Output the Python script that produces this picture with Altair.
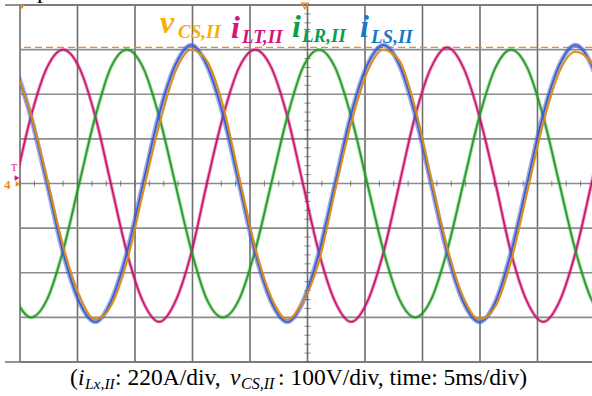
import altair as alt
import pandas as pd

# ---------------- data (in divisions) ----------------
t_div = [-0.08, 0.19, 0.47, 0.75, 1.03, 1.31, 1.58, 1.86, 2.14, 2.42, 2.70, 2.98,
         3.25, 3.53, 3.81, 4.09, 4.37, 4.65, 4.92, 5.20, 5.48, 5.76, 6.04, 6.32,
         6.60, 6.87, 7.15, 7.43, 7.71, 7.99, 8.27, 8.54, 8.82, 9.10, 9.38, 9.66,
         9.94, 10.21]

i_LT = [0.0, 1.5, 2.6, 3.0, 2.6, 1.5, 0.0, -1.55, -2.65, -3.1, -2.65, -1.55,
        0.0, 1.5, 2.6, 3.0, 2.6, 1.5, 0.0, -1.55, -2.65, -3.1, -2.65, -1.55,
        0.0, 1.5, 2.6, 3.05, 2.6, 1.5, 0.0, -1.55, -2.65, -3.1, -2.65, -1.55,
        0.0, 1.5]

i_LR = [-2.6, -3.0, -2.6, -1.5, 0.0, 1.5, 2.6, 3.0, 2.6, 1.5, 0.0, -1.5,
        -2.6, -3.0, -2.6, -1.5, 0.0, 1.5, 2.6, 3.0, 2.6, 1.5, 0.0, -1.5,
        -2.6, -3.0, -2.6, -1.5, 0.0, 1.5, 2.6, 3.0, 2.6, 1.5, 0.0, -1.5,
        -2.6, -3.0]

i_LS = [2.6, 1.5, 0.0, -1.55, -2.65, -3.1, -2.65, -1.55, 0.0, 1.55, 2.65, 3.1,
        2.65, 1.55, 0.0, -1.55, -2.65, -3.1, -2.65, -1.55, 0.0, 1.55, 2.65, 3.1,
        2.65, 1.55, 0.0, -1.55, -2.65, -3.1, -2.65, -1.55, 0.0, 1.55, 2.65, 3.1,
        2.65, 1.55]

v_CS = [2.55, 1.55, 0.1, -1.4, -2.5, -3.05, -2.75, -1.75, -0.2, 1.3, 2.5, 3.0,
        2.75, 1.75, 0.15, -1.45, -2.55, -3.05, -2.65, -1.75, -0.15, 1.35, 2.5, 3.0,
        2.75, 1.7, 0.1, -1.45, -2.55, -3.05, -2.75, -1.75, -0.2, 1.35, 2.5, 2.95,
        2.7, 1.7]

x_grid = [0, 1, 2, 3, 4, 5, 6, 7, 8, 9]
y_grid = [-4, -3, -2, -1, 0, 1, 2, 3, 4]
border_rows = [-4, 4]
dash_level = [3.05]
x_minor = [i * 0.25 for i in range(0, 40)]
y_minor = [i * 0.2 - 4 for i in range(0, 41)]

W, H = 572, 357
xs = alt.Scale(domain=[0, 9.948], nice=False, zero=False)
ys = alt.Scale(domain=[-4, 4], nice=False, zero=False)

SERIF = "Liberation Serif"

# ---------------- grid ----------------
vgrid = alt.Chart(pd.DataFrame({"x": x_grid})).mark_rule(
    color="#6e6e6e", strokeWidth=1.6
).encode(x=alt.X("x:Q", scale=xs, axis=None))

hgrid = alt.Chart(pd.DataFrame({"y": y_grid})).mark_rule(
    color="#8c8c8c", strokeWidth=1.6
).encode(y=alt.Y("y:Q", scale=ys, axis=None))

borders = alt.Chart(pd.DataFrame({"y": border_rows})).mark_rule(
    color="#6e6e6e", strokeWidth=1.6
).encode(y=alt.Y("y:Q", scale=ys, axis=None), x=alt.value(-15), x2=alt.value(W))

xticks = alt.Chart(pd.DataFrame({"x": x_minor, "y": [0] * len(x_minor)})).mark_tick(
    orient="vertical", size=6, thickness=1, color="#555555"
).encode(x=alt.X("x:Q", scale=xs, axis=None), y=alt.Y("y:Q", scale=ys, axis=None))

yticks = alt.Chart(pd.DataFrame({"y": y_minor, "x": [5] * len(y_minor)})).mark_tick(
    orient="horizontal", size=6, thickness=1, color="#555555"
).encode(x=alt.X("x:Q", scale=xs, axis=None), y=alt.Y("y:Q", scale=ys, axis=None))

dash = alt.Chart(pd.DataFrame({"y": dash_level})).mark_rule(
    color="#f08a24", strokeWidth=1.2, strokeDash=[7, 4]
).encode(y=alt.Y("y:Q", scale=ys, axis=None))


# ---------------- traces ----------------
def trace(vals, color, fuzz_w, core_w, fuzz_op):
    df = pd.DataFrame({"t": t_div, "v": vals})
    enc = dict(x=alt.X("t:Q", scale=xs, axis=None), y=alt.Y("v:Q", scale=ys, axis=None))
    fuzz = alt.Chart(df).mark_line(
        color=color, strokeWidth=fuzz_w, opacity=fuzz_op, interpolate="monotone", clip=True
    ).encode(**enc)
    core = alt.Chart(df).mark_line(
        color=color, strokeWidth=core_w, interpolate="monotone", clip=True
    ).encode(**enc)
    return [fuzz, core]


traces = []
traces += trace(i_LT, "#c8106e", 3.5, 1.5, 0.45)
traces += trace(i_LR, "#1f9a1f", 3.5, 1.5, 0.45)
traces += trace(i_LS, "#3c5cd0", 5.0, 1.8, 0.5)
traces += trace(v_CS, "#e08a10", 2.5, 1.5, 0.5)


# ---------------- text ----------------
def label(txt, x, y, size, color="black", style="normal", weight="normal"):
    return alt.Chart(pd.DataFrame({"a": [0]})).mark_text(
        text=txt, font=SERIF, fontSize=size, fontStyle=style, fontWeight=weight,
        color=color, align="left", baseline="alphabetic"
    ).encode(x=alt.value(x), y=alt.value(y))


legend = [
    label("v", 140, 28, 32, "#f5b000", "italic", "bold"),
    label("CS,II", 158, 33, 19, "#f5b000", "italic", "bold"),
    label("i", 211, 33, 32, "#d4157a", "italic", "bold"),
    label("LT,II", 222, 38, 19, "#d4157a", "italic", "bold"),
    label("i", 272, 32, 32, "#0a9f50", "italic", "bold"),
    label("LR,II", 282, 37, 19, "#0a9f50", "italic", "bold"),
    label("i", 340, 32, 32, "#1878c8", "italic", "bold"),
    label("LS,II", 351, 38, 19, "#1878c8", "italic", "bold"),
]

caption = [
    label("(", 50, 380, 23.5),
    label("i", 58, 380, 23.5, style="italic"),
    label("Lx,II", 65, 384, 15.5, style="italic"),
    label(": 220A/div, ", 95, 380, 23.5),
    label("v", 210, 380, 23.5, style="italic"),
    label("CS,II", 221, 384, 16, style="italic"),
    label(": 100V/div, time: 5ms/div)", 258, 380, 23.5),
]


# small scope markers
def marker(shape, x, y, size, color, filled=True):
    return alt.Chart(pd.DataFrame({"a": [0]})).mark_point(
        shape=shape, size=size, filled=filled, color=color, opacity=1, strokeWidth=1.3
    ).encode(x=alt.value(x), y=alt.value(y))


markers = [
    marker("triangle-right", -3, 173, 30, "#e0107a"),
    marker("triangle-right", -2, 179, 30, "#f08a10"),
    marker("triangle-down", 285, 1, 45, "#f08a10", filled=False),
    marker("triangle-down", 2, 2, 25, "#f08a10"),
    label("T", -9, 166, 10, "#e0107a"),
    label("4", -16, 184, 13, "#f08a10", weight="bold"),
    label("p", 17, -7, 24),
]

chart = alt.layer(
    vgrid, hgrid, borders, xticks, yticks, dash, *traces, *legend, *caption, *markers
).properties(
    width=W, height=H,
    autosize=alt.AutoSizeParams(type="none"),
    padding={"left": 20, "top": 5, "right": 0, "bottom": 34},
).configure_view(stroke=None)

chart.save("out.html", embed_options={"renderer": "svg", "actions": False})
